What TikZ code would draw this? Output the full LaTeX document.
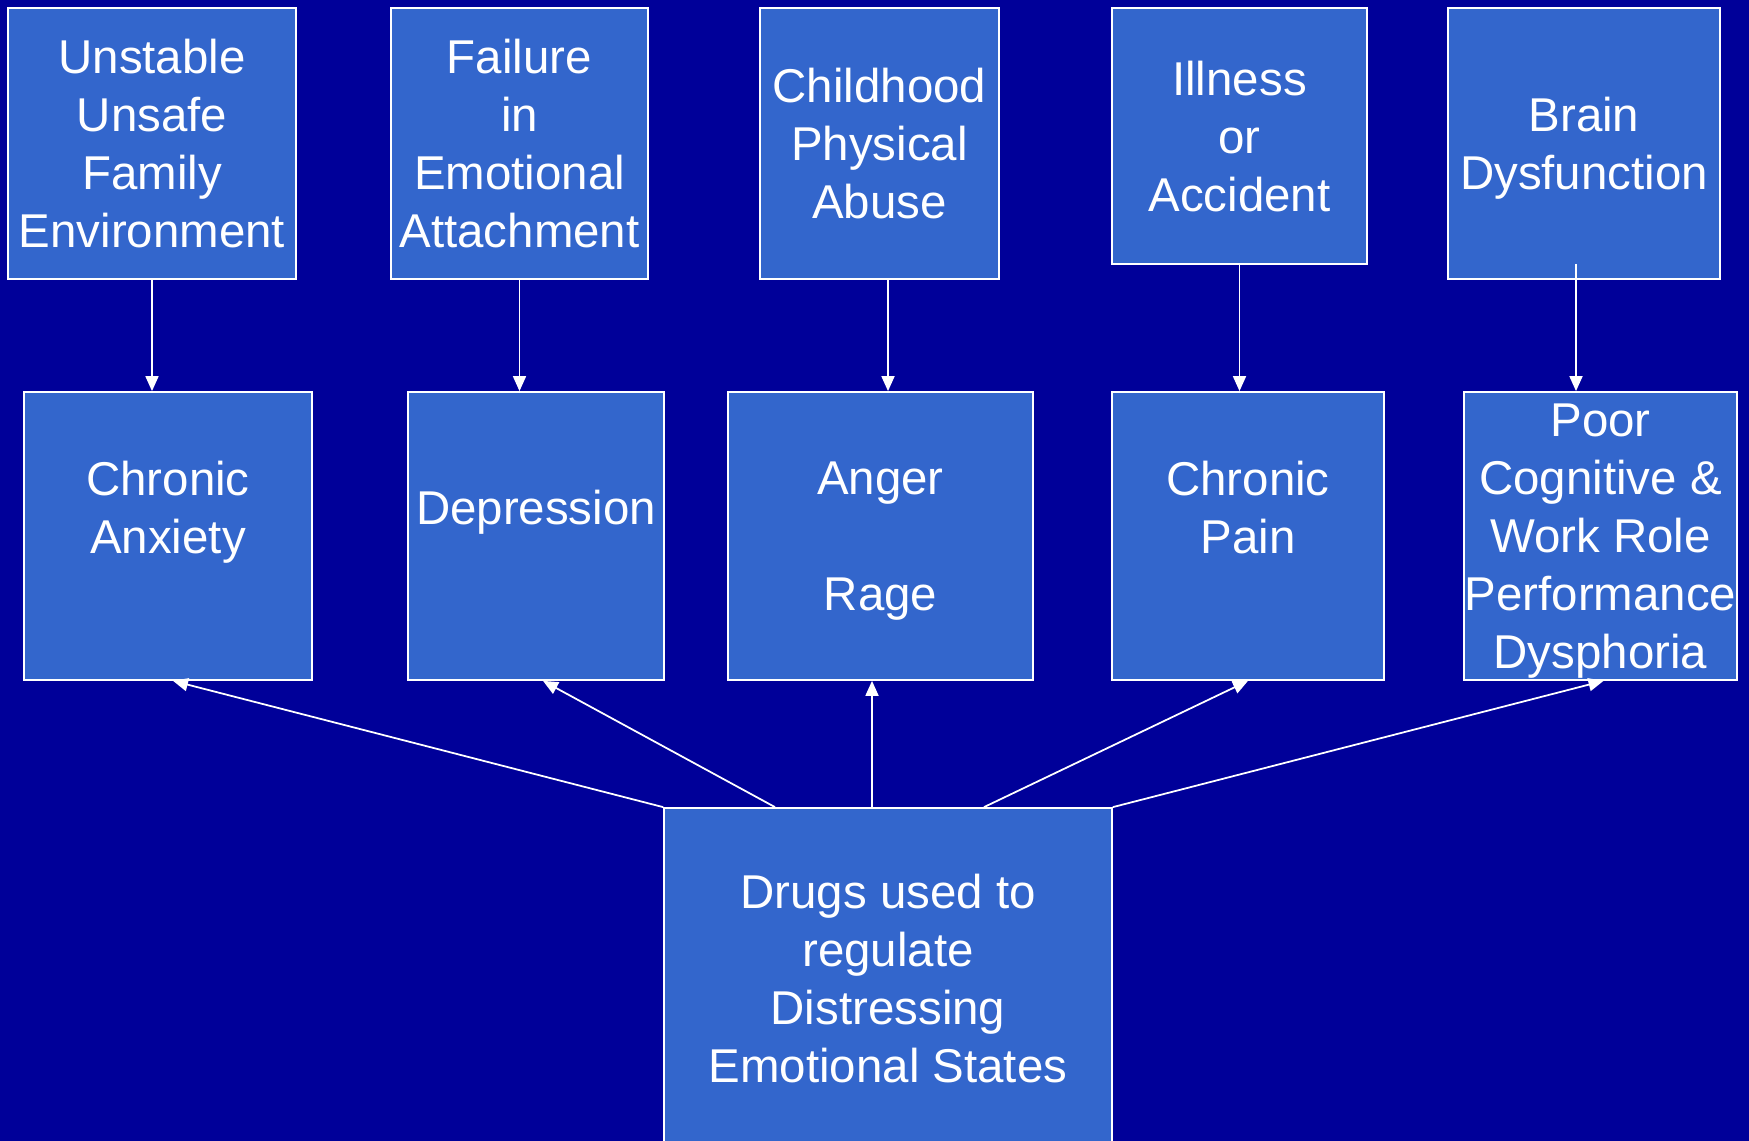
\documentclass[tikz,border=0pt]{standalone}
\usepackage{fontspec}
\setmainfont{Liberation Sans}
\usetikzlibrary{arrows.meta}
\definecolor{slidebg}{HTML}{000099}
\definecolor{boxblue}{HTML}{3366CC}
\tikzset{
  box/.style={draw=white, line width=0.5pt, fill=boxblue, text=white, align=center,
    inner sep=0pt, text depth=0pt, font=\fontsize{13.5}{16.5}\selectfont},
  link/.style={draw=white, line width=0.5pt, -{Triangle[length=0.15cm,width=0.13cm]}}
}
\begin{document}
\begin{tikzpicture}
  \fill[slidebg] (0,0) rectangle (17.49,-11.41);
  \useasboundingbox (0,0) rectangle (17.49,-11.41);
  % causes
  \node[box, minimum width=2.88cm, minimum height=2.71cm] (unsafe) at (1.52,-1.435) {Unstable\\Unsafe\\Family\\Environment};
  \node[box, minimum width=2.57cm, minimum height=2.71cm] (failure) at (5.195,-1.435) {Failure\\in\\Emotional\\Attachment};
  \node[box, minimum width=2.39cm, minimum height=2.71cm] (abuse) at (8.795,-1.435) {Childhood\\Physical\\Abuse};
  \node[box, minimum width=2.55cm, minimum height=2.56cm] (illness) at (12.395,-1.36) {Illness\\or\\Accident};
  \node[box, minimum width=2.72cm, minimum height=2.71cm] (brain) at (15.84,-1.435) {Brain\\Dysfunction};
  % states
  \node[box, minimum width=2.885cm, minimum height=2.88cm] (anxiety) at (1.68,-5.36) {Chronic\\Anxiety\\\mbox{}};
  \node[box, minimum width=2.565cm, minimum height=2.88cm] (depression) at (5.36,-5.36) {Depression\\\mbox{}};
  \node[box, minimum width=3.05cm, minimum height=2.88cm] (anger) at (8.805,-5.36) {Anger\\\mbox{}\\Rage};
  \node[box, minimum width=2.72cm, minimum height=2.88cm] (pain) at (12.48,-5.36) {Chronic\\Pain\\\mbox{}};
  \node[box, minimum width=2.73cm, minimum height=2.88cm] (poor) at (16.005,-5.36) {Poor\\Cognitive \&\\Work Role\\Performance\\Dysphoria};
  \node[box, minimum width=4.48cm, minimum height=3.4cm] (drugs) at (8.88,-9.78) {Drugs used to\\regulate\\Distressing\\Emotional States};
  \begin{scope}[link]
    \draw (unsafe.south) -- (unsafe.south |- anxiety.north);
    \draw (failure.south) -- (failure.south |- depression.north);
    \draw ([xshift=0.085cm]abuse.south) -- ([xshift=0.085cm]abuse.south |- anger.north);
    \draw (illness.south) -- (illness.south |- pain.north);
    \draw ([shift={(-0.08,0.16)}]brain.south) -- ([xshift=-0.08cm]brain.south |- poor.north);
    \draw (drugs.north west) -- ([xshift=0.05cm]anxiety.south);
    \draw ([xshift=-1.13cm]drugs.north) -- ([xshift=0.07cm]depression.south);
    \draw ([xshift=-0.16cm]drugs.north) -- ([xshift=-0.16cm]drugs.north |- anger.south);
    \draw ([xshift=0.96cm]drugs.north) -- (pain.south);
    \draw (drugs.north east) -- ([xshift=0.03cm]poor.south);
  \end{scope}
\end{tikzpicture}
\end{document}
